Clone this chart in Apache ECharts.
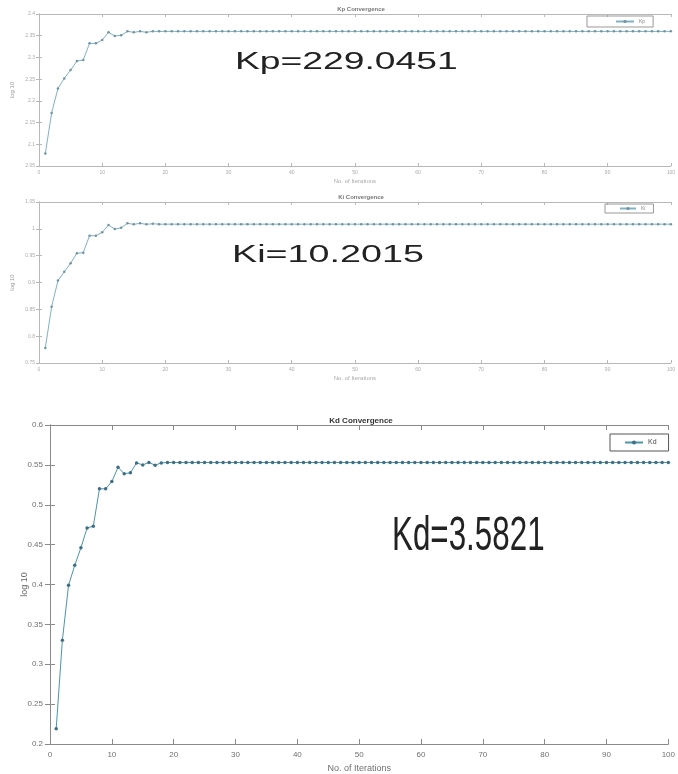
<!DOCTYPE html>
<html>
<head>
<meta charset="utf-8">
<script src="https://cdn.jsdelivr.net/npm/echarts@6/dist/echarts.min.js"></script>
<style>
  html, body { margin: 0; padding: 0; background: #fff; }
  #main { width: 678px; height: 774px; }
</style>
</head>
<body>
<div id="main"></div>
<script>
// log10 of each gain per iteration
var kpLog = [
  2.0786, 2.1723, 2.2286, 2.2517, 2.2708, 2.2916, 2.2939, 2.3324, 2.3324, 2.340,
  2.3578, 2.3493, 2.351, 2.3601, 2.3578, 2.360, 2.3578, 2.360, 2.36, 2.36,
  2.36, 2.36, 2.36, 2.36, 2.36, 2.36, 2.36, 2.36, 2.36, 2.36,
  2.36, 2.36, 2.36, 2.36, 2.36, 2.36, 2.36, 2.36, 2.36, 2.36,
  2.36, 2.36, 2.36, 2.36, 2.36, 2.36, 2.36, 2.36, 2.36, 2.36,
  2.36, 2.36, 2.36, 2.36, 2.36, 2.36, 2.36, 2.36, 2.36, 2.36,
  2.36, 2.36, 2.36, 2.36, 2.36, 2.36, 2.36, 2.36, 2.36, 2.36,
  2.36, 2.36, 2.36, 2.36, 2.36, 2.36, 2.36, 2.36, 2.36, 2.36,
  2.36, 2.36, 2.36, 2.36, 2.36, 2.36, 2.36, 2.36, 2.36, 2.36,
  2.36, 2.36, 2.36, 2.36, 2.36, 2.36, 2.36, 2.36, 2.36, 2.36
]
var kiLog = [
  0.7779, 0.855, 0.9035, 0.920, 0.9359, 0.9545, 0.9556, 0.9872, 0.9872, 0.9935,
  1.007, 0.9996, 1.002, 1.0102, 1.0084, 1.0102, 1.0084, 1.0095, 1.0087, 1.0087,
  1.0087, 1.0087, 1.0087, 1.0087, 1.0087, 1.0087, 1.0087, 1.0087, 1.0087, 1.0087,
  1.0087, 1.0087, 1.0087, 1.0087, 1.0087, 1.0087, 1.0087, 1.0087, 1.0087, 1.0087,
  1.0087, 1.0087, 1.0087, 1.0087, 1.0087, 1.0087, 1.0087, 1.0087, 1.0087, 1.0087,
  1.0087, 1.0087, 1.0087, 1.0087, 1.0087, 1.0087, 1.0087, 1.0087, 1.0087, 1.0087,
  1.0087, 1.0087, 1.0087, 1.0087, 1.0087, 1.0087, 1.0087, 1.0087, 1.0087, 1.0087,
  1.0087, 1.0087, 1.0087, 1.0087, 1.0087, 1.0087, 1.0087, 1.0087, 1.0087, 1.0087,
  1.0087, 1.0087, 1.0087, 1.0087, 1.0087, 1.0087, 1.0087, 1.0087, 1.0087, 1.0087,
  1.0087, 1.0087, 1.0087, 1.0087, 1.0087, 1.0087, 1.0087, 1.0087, 1.0087, 1.0087
]
var kdLog = [
  0.219, 0.330, 0.399, 0.424, 0.446, 0.471, 0.473, 0.520, 0.520, 0.529,
  0.547, 0.539, 0.540, 0.5525, 0.550, 0.553, 0.5496, 0.5525, 0.553, 0.553,
  0.553, 0.553, 0.553, 0.553, 0.553, 0.553, 0.553, 0.553, 0.553, 0.553,
  0.553, 0.553, 0.553, 0.553, 0.553, 0.553, 0.553, 0.553, 0.553, 0.553,
  0.553, 0.553, 0.553, 0.553, 0.553, 0.553, 0.553, 0.553, 0.553, 0.553,
  0.553, 0.553, 0.553, 0.553, 0.553, 0.553, 0.553, 0.553, 0.553, 0.553,
  0.553, 0.553, 0.553, 0.553, 0.553, 0.553, 0.553, 0.553, 0.553, 0.553,
  0.553, 0.553, 0.553, 0.553, 0.553, 0.553, 0.553, 0.553, 0.553, 0.553,
  0.553, 0.553, 0.553, 0.553, 0.553, 0.553, 0.553, 0.553, 0.553, 0.553,
  0.553, 0.553, 0.553, 0.553, 0.553, 0.553, 0.553, 0.553, 0.553, 0.553
]
var xTicks = [0, 10, 20, 30, 40, 50, 60, 70, 80, 90, 100]
var kpTicks = [2.05, 2.1, 2.15, 2.2, 2.25, 2.3, 2.35, 2.4]
var kiTicks = [0.75, 0.8, 0.85, 0.9, 0.95, 1, 1.05]
var kdTicks = [0.2, 0.25, 0.3, 0.35, 0.4, 0.45, 0.5, 0.55, 0.6]
var titles = ["Kp Convergence", "Ki Convergence", "Kd Convergence"]
var names = ["Kp", "Ki", "Kd"]
var results = ["Kp=229.0451", "Ki=10.2015", "Kd=3.5821"]

var iters = kdLog.map(function (v, i) { return i + 1 })
function pairs(arr) {
  return arr.map(function (v, i) { return [iters[i], v] })
}

var font = "Liberation Sans"
var grids = [
  { left: 39, top: 14, width: 634, height: 152 },
  { left: 39, top: 202, width: 634, height: 161 },
  { left: 50, top: 425, width: 623, height: 320 }
]
var yTickSets = [kpTicks, kiTicks, kdTicks]
var faint = [true, true, false]

var xAxes = [], yAxes = []
grids.forEach(function (g, i) {
  var axisCol = faint[i] ? "#b8b8b8" : "#8a8a8a"
  var labCol = faint[i] ? "#aaaaaa" : "#707070"
  var fs = faint[i] ? 5 : 8
  var tickLen = faint[i] ? 3 : 5
  var yt = yTickSets[i]
  var common = {
    gridIndex: i,
    splitLine: { show: false },
    axisLine: { show: true, lineStyle: { color: axisCol, width: 1 } },
    axisTick: { show: true, inside: true, length: tickLen, lineStyle: { color: axisCol } }
  }
  xAxes.push(Object.assign({}, common, {
    type: "value", position: "bottom",
    min: xTicks[0], max: xTicks[xTicks.length - 1], interval: 10,
    axisLabel: { color: labCol, fontSize: fs, fontFamily: font, margin: faint[i] ? 4 : 7 },
    name: "No. of Iterations", nameLocation: "middle", nameGap: faint[i] ? 12 : 20,
    nameTextStyle: { color: labCol, fontSize: fs + 1, fontFamily: font }
  }))
  xAxes.push(Object.assign({}, common, {
    type: "value", position: "top",
    min: xTicks[0], max: xTicks[xTicks.length - 1], interval: 10,
    axisLabel: { show: false }
  }))
  yAxes.push(Object.assign({}, common, {
    type: "value", position: "left",
    min: yt[0], max: yt[yt.length - 1], interval: 0.05,
    axisLabel: { color: labCol, fontSize: fs, fontFamily: font, margin: faint[i] ? 4 : 7 },
    name: "log 10", nameLocation: "middle", nameGap: faint[i] ? 24 : 21,
    nameMoveOverlap: false,
    nameTextStyle: { color: faint[i] ? "#999" : "#666", fontSize: fs + 1, fontFamily: font }
  }))
  yAxes.push(Object.assign({}, common, {
    type: "value", position: "right",
    min: yt[0], max: yt[yt.length - 1], interval: 0.05,
    axisLabel: { show: false }
  }))
})

var seriesData = [kpLog, kiLog, kdLog]
var series = seriesData.map(function (arr, i) {
  return {
    name: names[i],
    type: "line",
    xAxisIndex: i * 2,
    yAxisIndex: i * 2,
    data: pairs(arr),
    symbol: "circle",
    symbolSize: faint[i] ? 2.5 : 3.5,
    showAllSymbol: true,
    lineStyle: { color: faint[i] ? "#7fb2c2" : "#4d95a8", width: 1 },
    itemStyle: { color: faint[i] ? "#6f93a3" : "#3e6f86" },
    z: 3
  }
})

var legends = [
  { left: 587, top: 16, fs: 5, iw: 18, ih: 4, pad: [3, 8, 3, 28] },
  { left: 605, top: 204, fs: 5, iw: 16, ih: 4, pad: [2, 8, 2, 14] },
  { left: 610, top: 434, fs: 7, iw: 18, ih: 5, pad: [5, 12, 5, 14] }
].map(function (l, i) {
  return {
    data: [names[i]],
    left: l.left, top: l.top,
    orient: "horizontal",
    itemWidth: l.iw, itemHeight: l.ih, itemGap: 4,
    padding: l.pad,
    borderColor: faint[i] ? "#999" : "#555",
    borderWidth: 1,
    textStyle: { fontSize: l.fs, color: faint[i] ? "#888" : "#444", fontFamily: font },
    selectedMode: false
  }
})

var titleTops = [1, 189, 412]
var title = titles.map(function (t, i) {
  return {
    text: t, left: 356, top: titleTops[i], textAlign: "center",
    textStyle: { fontSize: faint[i] ? 6 : 8, fontWeight: "bold", color: faint[i] ? "#777" : "#333", fontFamily: font }
  }
})

var graphic = [
  { type: "text", x: 235, y: 51, scaleX: 1.62, scaleY: 1,
    style: { text: results[0], font: "23px " + font, fill: "#222", textVerticalAlign: "top" } },
  { type: "text", x: 232, y: 244, scaleX: 1.64, scaleY: 1,
    style: { text: results[1], font: "23px " + font, fill: "#222", textVerticalAlign: "top" } },
  { type: "text", x: 392, y: 512, scaleX: 0.64, scaleY: 1,
    style: { text: results[2], font: "49px " + font, fill: "#222", textVerticalAlign: "top" } }
]

var option = {
  animation: false,
  backgroundColor: "#fff",
  title: title,
  legend: legends,
  grid: grids,
  xAxis: xAxes,
  yAxis: yAxes,
  series: series,
  graphic: graphic
}

var chartEl = echarts.init(document.getElementById("main"))
chartEl.setOption(option)
window.addEventListener("resize", function () { chartEl.resize() })
</script>
</body>
</html>
